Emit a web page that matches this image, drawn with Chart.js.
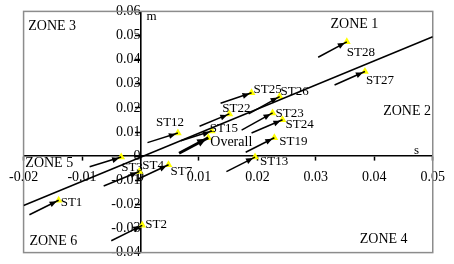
<!DOCTYPE html>
<html>
<head>
<meta charset="utf-8">
<script src="https://cdn.jsdelivr.net/npm/chart.js@4/dist/chart.umd.min.js"></script>
<style>
  html, body { margin: 0; padding: 0; background: #fff; }
</style>
</head>
<body>
<canvas id="grafico" width="454" height="264"></canvas>
<script>
// Estaciones: la flecha va de la cola (origen) a la punta (valor)
let estaciones = ['ST1','ST2','ST3','ST4','ST7','ST12','ST13','ST15','ST19','ST22','ST23','ST24','ST25','ST26','ST27','ST28','Overall'];
let colaS  = [-0.0190,-0.0050,-0.0087,-0.0063,-0.0005, 0.0012, 0.0147, 0.0069, 0.0180, 0.0101, 0.0173, 0.0190, 0.0137, 0.0185, 0.0332, 0.0304, 0.0066];
let colaM  = [-0.0243,-0.0351,-0.0044,-0.0124,-0.0096, 0.0056,-0.0064, 0.0064, 0.0016, 0.0124, 0.0108, 0.0096, 0.0219, 0.0175, 0.0295, 0.0410, 0.0012];
let puntaS = [-0.0140, 0.0003,-0.0033,-0.0002, 0.0048, 0.0064, 0.0196, 0.0122, 0.0229, 0.0152, 0.0226, 0.0243, 0.0190, 0.0238, 0.0384, 0.0353, 0.0116];
let puntaM = [-0.0183,-0.0287,-0.0004,-0.0064,-0.0036, 0.0096,-0.0004, 0.0104, 0.0076, 0.0175, 0.0179, 0.0151, 0.0263, 0.0247, 0.0351, 0.0474, 0.0076];

// Recta de tendencia general
let rectaS = [-0.02, 0.05];
let rectaM = [-0.0205, 0.0495];

// Rotulos de zonas
let zonas  = ['ZONE 1','ZONE 2','ZONE 3','ZONE 4','ZONE 5','ZONE 6'];
let zonaS  = [0.0366, 0.0497, -0.0192, 0.0416, -0.0197, -0.0190];
let zonaM  = [0.0546, 0.0187, 0.0538, -0.0343, -0.0028, -0.0355];

// Ejes
let ejeX = { min: -0.02, max: 0.05, paso: 0.01 };
let ejeY = { min: -0.04, max: 0.06, paso: 0.01 };

const fuente = 'Liberation Serif, Times New Roman, serif';

// Desplazamiento de cada etiqueta respecto a la punta (solo maquetacion)
const despl = {
  ST1:[2,2], ST2:[3,-1], ST3:[0,10], ST4:[3,-6], ST7:[2,7], ST12:[-22,-10],
  ST13:[5,4], ST15:[-2,-2], ST19:[5,4], ST22:[-7,-5], ST23:[3,1], ST24:[3,5],
  ST25:[2,-3], ST26:[1,-5], ST27:[1,9], ST28:[0,11], Overall:[2,5]
};

function redondeo(v){ return String(Math.round(v*100)/100); }

// Datasets de flechas
let flechas = estaciones.map((n, i) => ({
  label: n,
  data: [{x: colaS[i], y: colaM[i]}, {x: puntaS[i], y: puntaM[i]}],
  showLine: true,
  borderColor: '#000',
  borderWidth: n === 'Overall' ? 3 : 1.5,
  pointRadius: 0
}));

let marcas = {
  label: 'marcas',
  data: estaciones.map((n, i) => ({x: puntaS[i], y: puntaM[i]})),
  pointStyle: 'triangle',
  pointRadius: 4.5,
  backgroundColor: '#ffff00',
  borderWidth: 0,
  showLine: false
};

let recta = {
  label: 'recta',
  data: rectaS.map((s, i) => ({x: s, y: rectaM[i]})),
  showLine: true,
  borderColor: '#000',
  borderWidth: 1.5,
  pointRadius: 0
};

// Plugin: puntas de flecha, etiquetas, zonas, marco
const extras = {
  id: 'extras',
  beforeDatasetsDraw(chart) {
    const a = chart.chartArea, ctx = chart.ctx;
    ctx.save();
    ctx.strokeStyle = '#8c8c8c';
    ctx.lineWidth = 1.5;
    ctx.strokeRect(a.left, a.top, a.right - a.left, a.bottom - a.top);
    ctx.restore();
  },
  afterDatasetsDraw(chart) {
    const ctx = chart.ctx, xs = chart.scales.x, ys = chart.scales.y;
    ctx.save();
    // puntas
    estaciones.forEach((n, i) => {
      const x0 = xs.getPixelForValue(colaS[i]), y0 = ys.getPixelForValue(colaM[i]);
      const x1 = xs.getPixelForValue(puntaS[i]) - 2, y1 = ys.getPixelForValue(puntaM[i]) + 1;
      const ang = Math.atan2(y1 - y0, x1 - x0);
      const L = n === 'Overall' ? 9 : 7, W = n === 'Overall' ? 4 : 3;
      ctx.fillStyle = '#000';
      ctx.beginPath();
      ctx.moveTo(x1, y1);
      ctx.lineTo(x1 - L*Math.cos(ang) + W*Math.sin(ang), y1 - L*Math.sin(ang) - W*Math.cos(ang));
      ctx.lineTo(x1 - L*Math.cos(ang) - W*Math.sin(ang), y1 - L*Math.sin(ang) + W*Math.cos(ang));
      ctx.closePath();
      ctx.fill();
    });
    // etiquetas
    ctx.textAlign = 'left';
    ctx.textBaseline = 'middle';
    estaciones.forEach((n, i) => {
      const d = despl[n] || [2, 4];
      const fs = n === 'Overall' ? 14 : 13;
      ctx.font = fs + 'px ' + fuente;
      ctx.fillText(n, xs.getPixelForValue(puntaS[i]) + d[0], ys.getPixelForValue(puntaM[i]) + d[1]);
    });
    // zonas
    ctx.font = '14px ' + fuente;
    zonas.forEach((z, i) => {
      const px = xs.getPixelForValue(zonaS[i]);
      ctx.textAlign = (i === 1) ? 'right' : (i === 0 || i === 3) ? 'center' : 'left';
      ctx.fillText(z, px, ys.getPixelForValue(zonaM[i]));
    });
    // titulos de ejes
    ctx.font = '13px ' + fuente;
    ctx.textAlign = 'left';
    ctx.fillText('m', xs.getPixelForValue(0) + 6, ys.getPixelForValue(0.0577));
    ctx.fillText('s', xs.getPixelForValue(0.0468), ys.getPixelForValue(0.0025));
    ctx.restore();
  }
};

const config = {
  type: 'scatter',
  data: { datasets: [recta, ...flechas, marcas] },
  options: {
    responsive: false,
    animation: false,
    devicePixelRatio: 1,
    layout: { padding: { left: 17, right: 13, top: 6, bottom: 7 } },
    plugins: { legend: { display: false }, tooltip: { enabled: false } },
    scales: {
      x: {
        type: 'linear', min: ejeX.min, max: ejeX.max,
        position: { y: 0 },
        ticks: { stepSize: ejeX.paso, color: '#000', padding: 9, maxRotation: 0,
                 font: { family: fuente, size: 14 }, callback: redondeo },
        grid: { drawOnChartArea: false, drawTicks: true, tickLength: 4, color: '#000', tickWidth: 1.5 },
        border: { color: '#000', width: 1.6 }
      },
      y: {
        type: 'linear', min: ejeY.min, max: ejeY.max,
        position: { x: 0 },
        ticks: { stepSize: ejeY.paso, color: '#000', padding: 3,
                 font: { family: fuente, size: 14 }, callback: redondeo },
        grid: { drawOnChartArea: false, drawTicks: true, tickLength: 5, color: '#000', tickWidth: 1.5 },
        border: { color: '#000', width: 1.6 }
      }
    }
  },
  plugins: [extras]
};

var grafico = new Chart(document.getElementById('grafico'), config);
</script>
</body>
</html>
